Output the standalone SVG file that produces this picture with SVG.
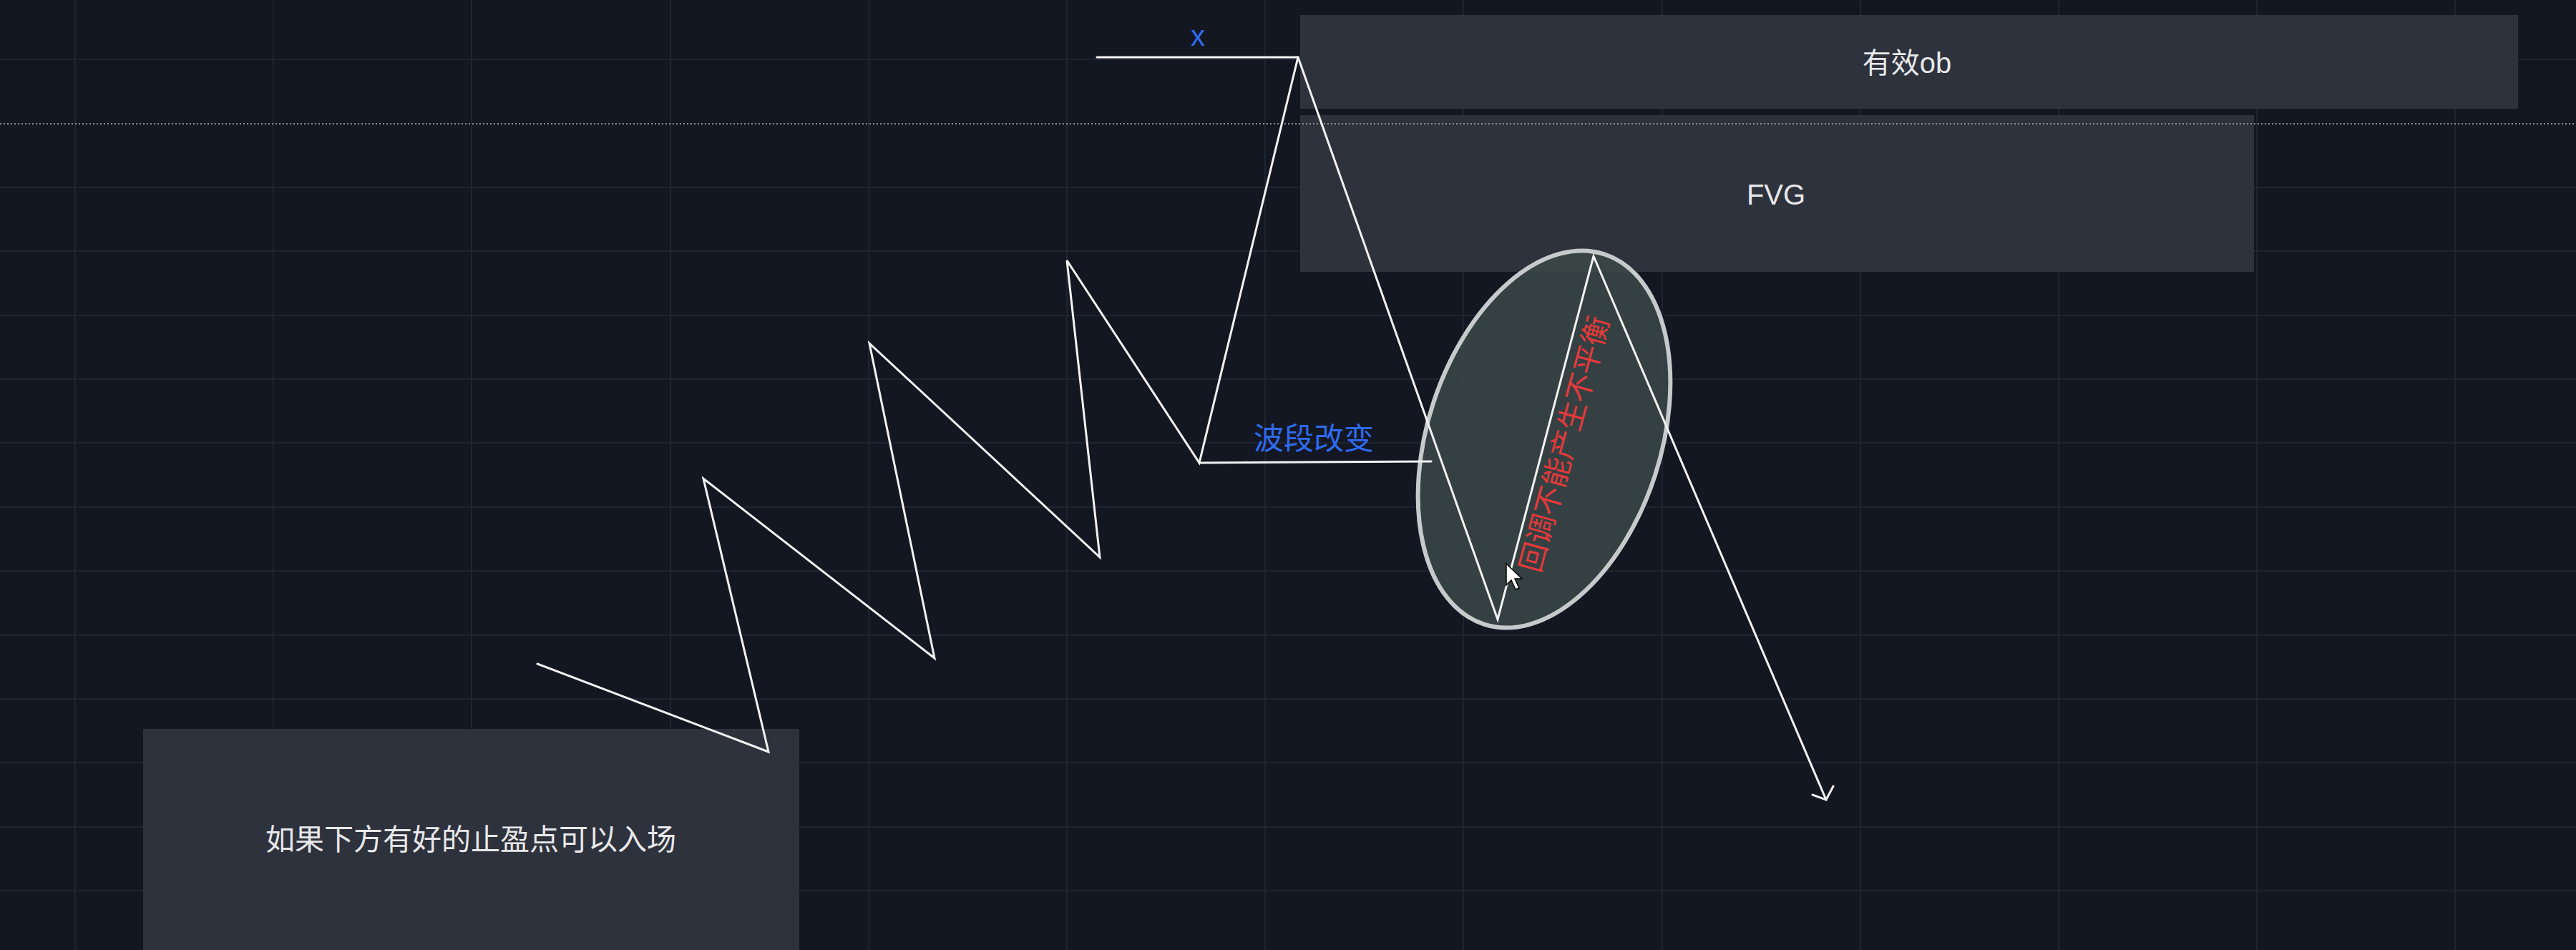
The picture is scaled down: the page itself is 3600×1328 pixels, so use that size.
<svg xmlns="http://www.w3.org/2000/svg" width="3600" height="1328" viewBox="0 0 3600 1328">
<defs>
<style>
.grid{stroke:#1f2431;stroke-width:2}
.box{fill:#2e323d}
.lbl{font-family:"Liberation Sans","Noto Sans CJK SC",sans-serif;fill:#e8e8ea;text-anchor:middle;dominant-baseline:central}
.blue{font-family:"Liberation Sans","Noto Sans CJK SC",sans-serif;fill:#2f6bf0;text-anchor:middle;dominant-baseline:central}
.wl{fill:none;stroke:#f2f2f2;stroke-width:3;stroke-linejoin:miter;stroke-linecap:round}
</style>
</defs>
<rect x="0" y="0" width="3600" height="1328" fill="#131722"/>
<g id="grid">
<path class="grid" d="M105 0V1328M382 0V1328M659 0V1328M937 0V1328M1214 0V1328M1491 0V1328M1768 0V1328M2045 0V1328M2323 0V1328M2600 0V1328M2877 0V1328M3154 0V1328M3431 0V1328"/>
<path class="grid" d="M0 83H3600M0 262H3600M0 351H3600M0 441H3600M0 530H3600M0 619H3600M0 709H3600M0 798H3600M0 888H3600M0 977H3600M0 1066H3600M0 1156H3600M0 1245H3600"/>
</g>
<g id="ob">
<rect class="box" x="1817" y="21" width="1702" height="131"/>
<text class="lbl" x="2665" y="88" font-size="40">有效ob</text>
</g>
<g id="fvg">
<rect class="box" x="1817" y="161" width="1333" height="219"/>
<text class="lbl" x="2482" y="272" font-size="40">FVG</text>
</g>
<line id="level" x1="0" y1="173" x2="3600" y2="173" stroke="#8c909a" stroke-width="2" stroke-dasharray="2,3"/>
<g id="note">
<rect class="box" x="200" y="1019" width="917" height="309"/>
<text class="lbl" x="658" y="1174" font-size="41">如果下方有好的止盈点可以入场</text>
</g>
<g id="zone">
<ellipse cx="2158" cy="614" rx="163" ry="272" transform="rotate(18 2158 614)" fill="#3b4847" fill-opacity="0.85" stroke="#c6cacb" stroke-width="6"/>
</g>
<g id="connectors">
<polyline class="wl" points="751,928 1074,1051 983,669 1306,920 1215,480 1537,779 1491,364 1676,647 1814,80"/>
<line class="wl" x1="1533" y1="80" x2="1814" y2="80" stroke-width="5"/>
<line class="wl" x1="1676" y1="647" x2="2000" y2="645"/>
<polyline class="wl" points="1814,80 2093,866 2227,358 2552,1118"/>
<polyline class="wl" points="2533,1111 2552,1118 2562,1099"/>
</g>
<g id="labels">
<text class="blue" x="1674" y="50" font-size="40">x</text>
<text class="blue" x="1836" y="613" font-size="42">波段改变</text>
<text x="2187" y="621" font-size="41" fill="#e23a3c" font-family="Liberation Sans,Noto Sans CJK SC,sans-serif" text-anchor="middle" dominant-baseline="central" transform="rotate(-74.6 2187 621)">回调不能产生不平衡</text>
</g>
<g id="cursor">
<path d="M2105 788 L2105 818 L2112 811 L2118 824 L2123 822 L2117 809 L2127 809 Z" fill="#ffffff" stroke="#000000" stroke-width="1.5"/>
</g>
</svg>
